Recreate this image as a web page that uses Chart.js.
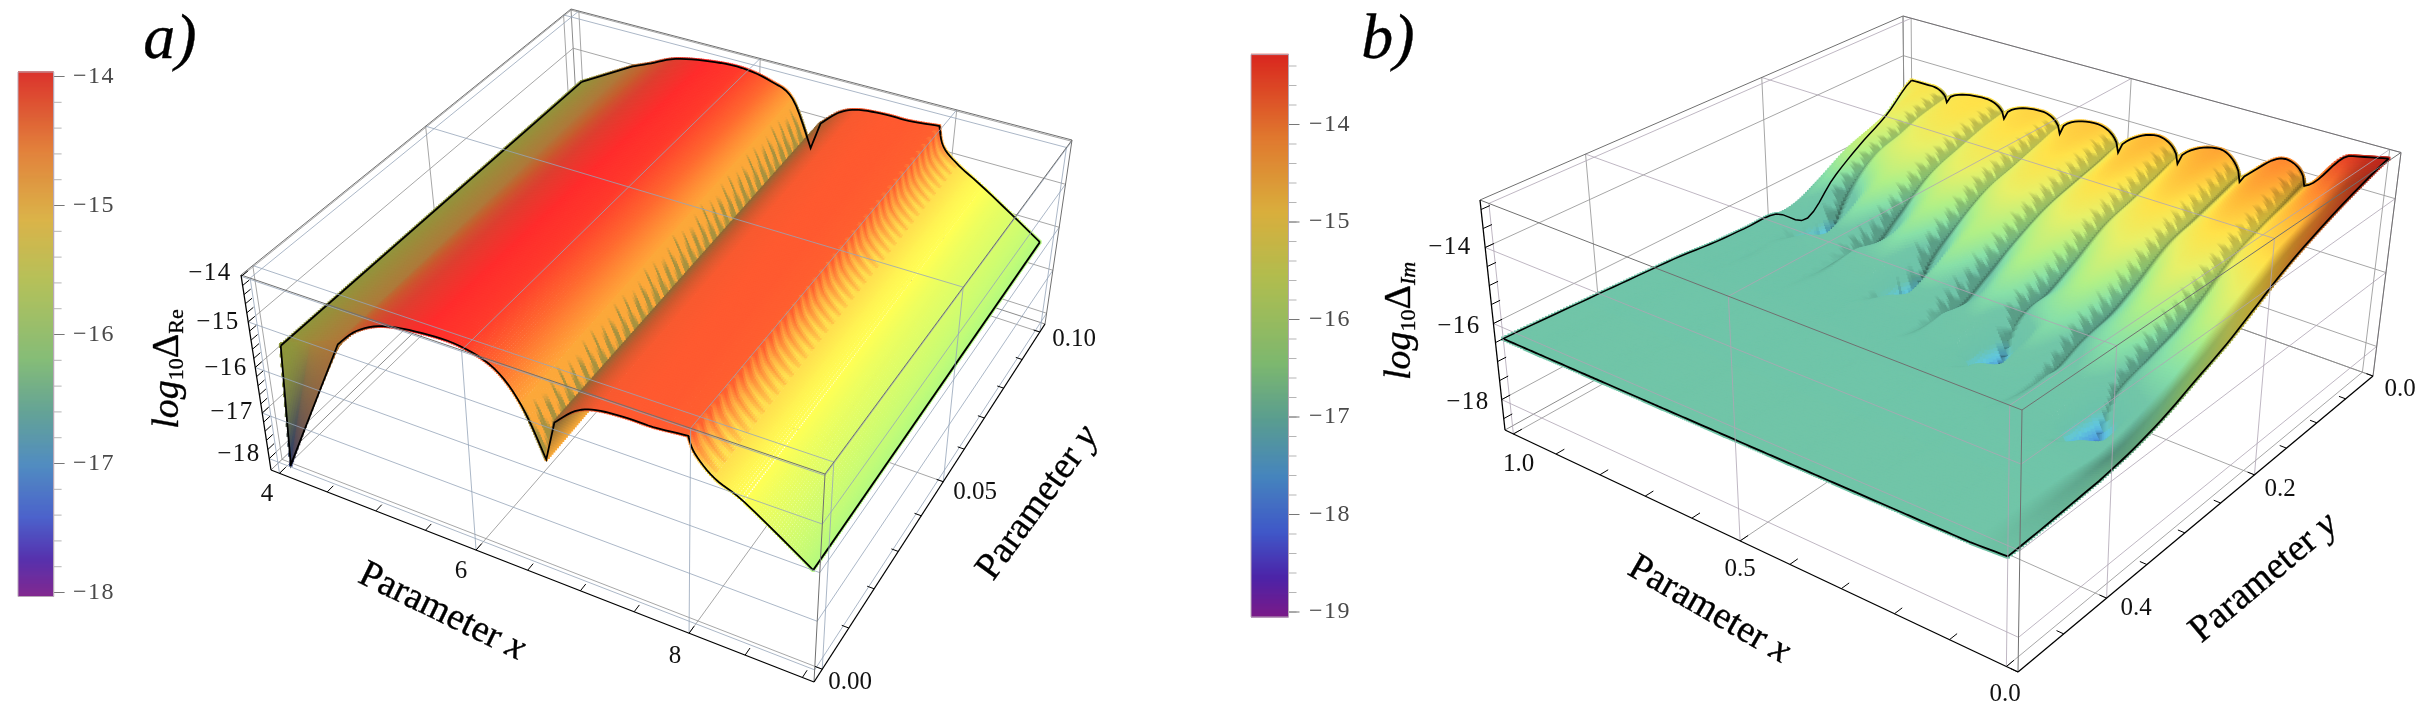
<!DOCTYPE html>
<html><head><meta charset="utf-8">
<style>html,body{margin:0;padding:0;background:#fff}canvas{display:block}</style>
<script src="https://cdn.jsdelivr.net/npm/chart.js@4/dist/chart.umd.js"></script>
</head><body><canvas id="c" width="2428" height="714"></canvas>
<script>
// ---------- values ----------
const aXTicks=[4,6,8], aYTicks=[0,0.05,0.1], aZTicks=[-18,-17,-16,-15,-14];
const bXTicks=[1,0.5,0], bYTicks=[0,0.2,0.4], bZTicks=[-18,-16,-14];
const aBarTicks=[-14,-15,-16,-17,-18], bBarTicks=[-14,-15,-16,-17,-18,-19];
// panel a: cross-section of the surface at y=0 and at y=0.1
const aProfileX=[4.08,4.00,4.68,4.89,5.16,5.53,5.88,6.19,6.42,6.63,6.72,6.91,7.10,7.37,7.60,7.90,7.96,8.13,8.39,8.98];
const aProfileZ=[-15.61,-18.30,-15.11,-14.65,-14.34,-14.20,-14.20,-14.44,-15.03,-16.02,-15.16,-14.76,-14.58,-14.52,-14.52,-14.45,-14.78,-15.15,-15.43,-16.31];
const aProfileZBack=[-15.61,-18.30,-14.83,-14.62,-14.34,-14.17,-14.12,-14.26,-14.55,-15.62,-14.96,-14.56,-14.38,-14.32,-14.32,-14.25,-14.71,-15.05,-15.40,-16.25];
const aProfileColor=['#8f973c','#1f2f6b','#b0783a','#c4602f','#dc4030','#ff2c2c','#ff3a2c','#ff6a30','#ffa63a','#f8a838','#8a6a35','#c85a2f','#f85a30','#ff5a30','#ff5a30','#ff6030','#ffa040','#ffe050','#ffff55','#b4fa80'];
// panel b: height table, knots across x (edge, crest, valley, crest, ...), rows along y
const bKnotX=[1,0.95,0.913,0.82,0.776,0.69,0.648,0.567,0.519,0.438,0.394,0.311,0.268,0.185,0.145,0.063,0];
const bRowY=[0,0.04,0.08,0.12,0.16,0.2,0.24,0.28,0.32,0.36,0.4,0.5];
const bZ=[
[-14.7,-14.69,-15.06,-14.58,-15.03,-14.46,-14.97,-14.35,-15.0,-14.18,-14.81,-14.04,-14.79,-13.79,-14.37,-13.2,-13.0],
[-15.4,-14.8,-15.3,-14.65,-15.25,-14.55,-15.2,-14.45,-15.2,-14.3,-15.05,-14.2,-15.0,-14.0,-14.7,-13.7,-13.2],
[-15.9,-15.1,-15.6,-14.85,-15.5,-14.75,-15.45,-14.65,-15.4,-14.5,-15.3,-14.45,-15.25,-14.3,-15.0,-14.2,-13.45],
[-16.5,-15.4,-15.9,-15.15,-15.8,-15.0,-15.7,-14.9,-15.65,-14.8,-15.55,-14.75,-15.5,-14.65,-15.3,-14.5,-13.75],
[-17.3,-15.9,-16.7,-15.55,-16.4,-15.4,-16.2,-15.3,-16.05,-15.2,-16.0,-15.1,-15.95,-15.0,-15.8,-14.9,-14.1],
[-16.7,-16.3,-17.9,-16.0,-16.9,-15.8,-16.8,-15.6,-16.5,-15.5,-16.4,-15.45,-16.35,-15.4,-16.2,-15.3,-14.55],
[-16.65,-16.55,-16.65,-16.45,-16.7,-16.2,-17.9,-16.0,-16.9,-15.9,-16.7,-15.85,-16.6,-15.8,-16.5,-15.75,-15.0],
[-16.6,-16.55,-16.6,-16.5,-16.6,-16.5,-16.6,-16.45,-16.8,-16.3,-18.0,-16.15,-16.9,-16.1,-16.8,-16.1,-15.35],
[-16.5,-16.5,-16.5,-16.5,-16.5,-16.5,-16.5,-16.5,-16.5,-16.55,-16.6,-16.5,-16.7,-16.4,-18.1,-16.35,-15.7],
[-16.45,-16.45,-16.45,-16.45,-16.45,-16.45,-16.45,-16.45,-16.45,-16.45,-16.45,-16.45,-16.45,-16.5,-16.6,-16.5,-15.95],
[-16.4,-16.4,-16.4,-16.4,-16.4,-16.4,-16.4,-16.4,-16.4,-16.4,-16.4,-16.4,-16.4,-16.4,-16.4,-16.4,-16.1],
[-16.3,-16.3,-16.3,-16.3,-16.3,-16.3,-16.3,-16.3,-16.3,-16.3,-16.3,-16.3,-16.3,-16.3,-16.3,-16.3,-16.25]];
const bZPalette=[-18.2,-17.6,-17.2,-16.9,-16.2,-15.9,-15.5,-15,-14.6,-14.2,-13.8,-13.3,-13];
const bZColors=['#2f55c8','#4a8fe0','#62c8dc','#6cc2aa','#72c6a8','#88e0a8','#b0f088','#e8f068','#ffe24a','#ffb838','#ff8a30','#e84a28','#d82a20'];
const barStops=[0,0.07,0.15,0.25,0.35,0.45,0.6,0.72,0.85,1];
const barColors=['#7a1a88','#4c24a8','#4058c8','#4685bd','#5a9d90','#7db86f','#b0bd4f','#d9ae3d','#e0792f','#d9261f'];

// ---------- helpers ----------
const hex=h=>[parseInt(h.slice(1,3),16),parseInt(h.slice(3,5),16),parseInt(h.slice(5,7),16)];
const toHex=c=>'#'+c.map(v=>Math.max(0,Math.min(255,Math.round(v))).toString(16).padStart(2,'0')).join('');
const lerp=(a,b,t)=>a+(b-a)*t, clamp=(v,a=0,b=1)=>Math.max(a,Math.min(b,v));
const mixC=(a,b,t)=>[lerp(a[0],b[0],t),lerp(a[1],b[1],t),lerp(a[2],b[2],t)];
const tri=t=>{const f=t-Math.floor(t);return Math.abs(2*f-1)};
function ramp(stops,cols,v){
  const c=cols.map(hex);
  if(v<=stops[0])return c[0];
  for(let i=1;i<stops.length;i++)if(v<=stops[i])return mixC(c[i-1],c[i],(v-stops[i-1])/(stops[i]-stops[i-1]));
  return c[c.length-1];
}
function makeBox(cfg){
  const warp=(t,a)=>a*t/(1+(a-1)*t);
  const k=cfg;
  return (x,y,z)=>{
    const u=warp((x-k.xr[0])/(k.xr[1]-k.xr[0]),k.ax),w=warp((y-k.yr[0])/(k.yr[1]-k.yr[0]),k.ay),v=(z-k.zr[0])/(k.zr[1]-k.zr[0]);
    const bi=(fl,fr,br,bl,i)=>lerp(lerp(fl[i],fr[i],u),lerp(bl[i],br[i],u),w);
    const bx=bi(k.flb,k.frb,k.brb,k.blb,0),by=bi(k.flb,k.frb,k.brb,k.blb,1);
    const tx=bi(k.flt,k.frt,k.brt,k.blt,0),ty=bi(k.flt,k.frt,k.brt,k.blt,1);
    return {x:lerp(bx,tx,v),y:lerp(by,ty,v)};
  };
}
const layers=[];
const line=(pts,color,width)=>layers.push({type:'scatter',data:pts,showLine:true,borderColor:color,borderWidth:width,pointRadius:0,fill:false,clip:false,tension:0});
const dots=(pts,cols,r)=>layers.push({type:'scatter',data:pts,showLine:false,pointStyle:'rect',pointRadius:r,pointBackgroundColor:cols,pointBorderWidth:0,clip:false});

function boxBack(P,k,X,Y,Z){
  const c='rgba(150,150,150,.85)';
  const [x0,x1]=k.xr,[y0,y1]=k.yr,[z0,z1]=k.zr;
  X.forEach(x=>{line([P(x,y0,z0),P(x,y1,z0)],c,1);line([P(x,y1,z0),P(x,y1,z1)],c,1);});
  Y.forEach(y=>{line([P(x0,y,z0),P(x1,y,z0)],c,1);line([P(x0,y,z0),P(x0,y,z1)],c,1);});
  Z.forEach(z=>{line([P(x0,y0,z),P(x0,y1,z)],c,1);line([P(x0,y1,z),P(x1,y1,z)],c,1);});
  const e='#8c8c8c';
  line([P(x0,y1,z0),P(x0,y1,z1)],e,1);line([P(x0,y1,z0),P(x1,y1,z0)],e,1);line([P(x0,y0,z0),P(x0,y1,z0)],e,1);
}
function boxFront(P,k,X,Y,Z,c,mx,my,mz){
  const [x0,x1]=k.xr,[y0,y1]=k.yr,[z0,z1]=k.zr;
  X.forEach(x=>{line([P(x,y0,z1),P(x,y1,z1)],c,1);line([P(x,y0,z0),P(x,y0,z1)],c,1);});
  Y.forEach(y=>{line([P(x0,y,z1),P(x1,y,z1)],c,1);line([P(x1,y,z0),P(x1,y,z1)],c,1);});
  Z.forEach(z=>{line([P(x0,y0,z),P(x1,y0,z)],c,1);line([P(x1,y0,z),P(x1,y1,z)],c,1);});
  const e='#707070';
  [[P(x0,y0,z1),P(x1,y0,z1)],[P(x1,y0,z1),P(x1,y1,z1)],[P(x1,y1,z1),P(x0,y1,z1)],[P(x0,y1,z1),P(x0,y0,z1)],
   [P(x1,y0,z0),P(x1,y0,z1)],[P(x1,y1,z0),P(x1,y1,z1)]].forEach(s=>line(s,e,1));
  const b='#000';
  line([P(x0,y0,z0),P(x1,y0,z0)],b,1.3);line([P(x1,y0,z0),P(x1,y1,z0)],b,1.3);line([P(x0,y0,z0),P(x0,y0,z1)],b,1.3);
  const dy=(y1-y0)*.016,dx=(x1-x0)*.012;
  mx.forEach(x=>line([P(x,y0,z0),P(x,y0+dy,z0)],b,1));
  my.forEach(y=>line([P(x1,y,z0),P(x1-dx,y,z0)],b,1));
  mz.forEach(z=>line([P(x0,y0,z),P(x0,y0+dy,z)],b,1));
}
function steps(a,b,s){const o=[];const n=Math.round(Math.abs(b-a)/s);for(let i=0;i<=n;i++)o.push(a+(b-a)*i/n);return o;}

// ---------- colour bars ----------
function colorBar(x0,x1,yTop,yBot,topV,perUnit,botV,ticks,minor){
  const pts=[],cols=[];
  for(let y=yTop;y<=yBot;y+=1){pts.push({x:(x0+x1)/2,y});cols.push(toHex(ramp(barStops,barColors,1-(y-yTop)/(yBot-yTop))));}
  layers.push({type:'scatter',data:pts,showLine:false,pointStyle:'line',pointRadius:(x1-x0)/2,pointBorderColor:cols,pointBorderWidth:1.6,clip:false});
  const vy=v=>yTop+(topV-v)*perUnit;
  minor.forEach(v=>{const y=vy(v);if(y>=yTop&&y<=yBot)line([{x:x1,y},{x:x1+8,y}],'#b5b5b5',1);});
  ticks.forEach(v=>line([{x:x1,y:vy(v)},{x:x1+11,y:vy(v)}],'#777',1));
  line([{x:x0,y:yTop},{x:x1,y:yTop},{x:x1,y:yBot},{x:x0,y:yBot},{x:x0,y:yTop}],'#b8a8b8',1);
  return vy;
}
const vyA=colorBar(18,53.6,72,596.5,-13.965,129,-18.03,aBarTicks,steps(-14,-18,.2));
const vyB=colorBar(1251,1288.5,54.6,617,-13.283,97.5,-19.05,bBarTicks,steps(-13.4,-19,.2));

// ---------- panel a ----------
const kA={flb:[271,470],frb:[814,682],brb:[1045,324],blb:[580,172],flt:[241,275],frt:[825,474],brt:[1072,140],blt:[571,9],xr:[3.91,9.1],yr:[-0.003,0.103],zr:[-18.25,-13.97],ax:.9,ay:1.27};
const PA=makeBox(kA);
boxBack(PA,kA,aXTicks,aYTicks,aZTicks);
(function(){
  const idx=[0];for(let i=2;i<aProfileX.length;i++)idx.push(i);
  const cols=aProfileColor.map(hex);
  const midC=mixC(cols[0],cols[2],.5);
  const curve=(arr,a,b,t)=>{
    let lo=-1,hi=-1;
    if(a>=2&&b<=9){lo=2;hi=9;}else if(a>=10&&b<=15){lo=10;hi=15;}else if(a>=15){lo=15;hi=19;}
    if(lo<0||a===b)return lerp(arr[a],arr[b],t);
    const p0=arr[Math.max(a-1,lo)],p1=arr[a],p2=arr[b],p3=arr[Math.min(b+1,hi)];
    return .5*((2*p1)+(-p0+p2)*t+(2*p0-5*p1+4*p2-p3)*t*t+(-p0+3*p1-3*p2+p3)*t*t*t);
  };
  const at=(a,b,t,y)=>{const f=y/0.1;return PA(curve(aProfileX,a,b,t),y,lerp(curve(aProfileZ,a,b,t),curve(aProfileZBack,a,b,t),f));};
  const pts=[],cc=[];
  const nRows=180;
  const sam=[];
  for(let j=0;j<idx.length-1;j++){
    const a=idx[j],b=idx[j+1];
    const pa=PA(aProfileX[a],0,aProfileZ[a]),pb=PA(aProfileX[b],0,aProfileZ[b]);
    const n=Math.max(2,Math.ceil(Math.hypot(pa.x-pb.x,pa.y-pb.y)/2.7));
    for(let q=0;q<n;q++)sam.push([a,b,q/n]);
  }
  sam.push([idx[idx.length-1],idx[idx.length-1],0]);
  for(let r=0;r<=nRows;r++){
    const y=0.1*(1-r/nRows);
    for(const [a,b,t] of sam){
      let c;
      const s=a+(b-a)*t;
      if(a===8){
        const d=9-s,h=tri(y*380);
        c=mixC(hex('#a8923f'),hex('#fca83a'),clamp((d-h*.8)/.2));
      }else if(a>=15&&a<=16){
        const s2=clamp(s+.8*(tri(y*380)-.5),15,17);
        c=s2<16?mixC(cols[15],cols[16],s2-15):mixC(cols[16],cols[17],s2-16);
      }else c=mixC(cols[a],cols[b],t);
      pts.push(at(a,b,t,y));cc.push(toHex(c));
    }
  }
  for(let f=40;f>=0;f--){
    const g=f/40,bx=lerp(aProfileX[1],(aProfileX[0]+aProfileX[2])/2,g),bz=lerp(aProfileZ[1],(aProfileZ[0]+aProfileZ[2])/2,g);
    const bc=mixC(cols[1],midC,g);
    for(let q=0;q<=40;q++){
      const t=q/40;let x,z,c;
      if(t<.3){const e=t/.3;x=lerp(aProfileX[0],bx,e);z=lerp(aProfileZ[0],bz,e);c=mixC(cols[0],bc,e*e);}
      else{const e=(t-.3)/.7;x=lerp(bx,aProfileX[2],e);z=lerp(bz,aProfileZ[2],e);c=mixC(bc,cols[2],Math.sqrt(e));}
      pts.push(PA(x,0.0006*g,z));cc.push(toHex(c));
    }
  }
  dots(pts,cc,2.5);
  const prof=y=>{
    const o=[];
    if(y===0)o.push(PA(aProfileX[0],0,aProfileZ[0]),PA(aProfileX[1],0,aProfileZ[1]));
    else o.push(at(0,0,0,y));
    for(let j=1;j<idx.length-1;j++){for(let q=0;q<6;q++)o.push(at(idx[j],idx[j+1],q/6,y));}
    const L=aProfileX.length-1;o.push(at(L,L,0,y));return o;
  };
  line(prof(0.1),'#000',1.8);
  line(prof(0),'#000',1.8);
  line([at(0,0,0,0),at(0,0,0,.1)],'#000',1.8);
  const L=aProfileX.length-1;
  line([at(L,L,0,0),at(L,L,0,.1)],'#000',1.8);
})();
boxFront(PA,kA,aXTicks,aYTicks,aZTicks,'rgba(150,165,185,.8)',steps(4,9,.5),steps(0,.1,.01),steps(-18,-14,.2));

// ---------- panel b ----------
const kB={flb:[1505,430],frb:[2018,672],brb:[2373,376],blb:[1905,208],flt:[1480,200],frt:[2022,410],brt:[2401,152.5],blt:[1903,16],xr:[1.02,-0.02],yr:[0.5,0],zr:[-18.8,-12.75],ax:.846,ay:1.33};
const PB=makeBox(kB);
boxBack(PB,kB,bXTicks,bYTicks,bZTicks);
(function(){
  const nK=bKnotX.length;
  const rowAt=y=>{
    let i=0;while(i<bRowY.length-2&&y>bRowY[i+1])i++;
    const t=(y-bRowY[i])/(bRowY[i+1]-bRowY[i]);
    const o=[];
    for(let k=0;k<nK;k++){
      const p0=bZ[Math.max(i-1,0)][k],p1=bZ[i][k],p2=bZ[i+1][k],p3=bZ[Math.min(i+2,bRowY.length-1)][k];
      o.push(.5*((2*p1)+(-p0+p2)*t+(2*p0-5*p1+4*p2-p3)*t*t+(-p0+3*p1-3*p2+p3)*t*t*t));
    }
    return o;
  };
  const zSeg=(row,k,t)=>{
    if(k===0){const e=t*t*(3-2*t);return lerp(row[0],row[1],e);}
    if(k===nK-2)return lerp(row[k],row[k+1],t);
    const kIsCrest=k%2===1;
    const zr=kIsCrest?row[k]:row[k+1],zv=kIsCrest?row[k+1]:row[k],d=kIsCrest?1-t:t;
    const arc=Math.sqrt(1-(1-d)*(1-d));
    return zv+(zr-zv)*lerp(arc,d*d*(3-2*d),clamp((zr-zv-.7)/.5));
  };
  const pts=[],cc=[],rr=[];
  const segN=k=>(k===0?8:k===nK-2?30:22);
  const nRows=170;
  let prevRow=null;
  for(let r=0;r<=nRows;r++){
    const y=.5*r/nRows,row=rowAt(y),cur=[];
    let last=null;
    for(let k=0;k<nK-1;k++){
      const n=segN(k);
      for(let q=0;q<n+(k===nK-2?1:0);q++){
        let t=q/n;
        if(k>0&&k<nK-2){t=k%2===1?1-Math.pow(1-t,1.35):Math.pow(t,1.35);}
        const x=lerp(bKnotX[k],bKnotX[k+1],t),z=zSeg(row,k,t);
        let shade=1;
        if(k>0&&k<nK-2){
          const crest=k%2===1,zr=crest?row[k]:row[k+1],zv=crest?row[k+1]:row[k],d=crest?1-t:t;
          const wgt=clamp((zr-zv)/.35)*clamp((zr+16.6)/.5),fade=clamp((.3-y)/.06);
          if(crest){
            const h=tri(y*75)*fade;
            const lim=.08+.4*h;
            shade=lerp(1,lerp(.8,1,clamp((d-lim*.7)/(lim*.5+.04))),wgt)*lerp(1,lerp(.62,1,clamp(d/.07)),wgt);
          }else{
            shade=lerp(1,lerp(.62,1,clamp(d/.2)),wgt);
          }
        }else if(k===nK-2){
          const wgt=clamp((row[k+1]-row[k])/.5);
          shade=lerp(1,lerp(1,.74,clamp(t/.55)),wgt);
        }
        const c=ramp(bZPalette,bZColors,z).map(v=>v*shade);
        const p=PB(x,y,z);
        const i=cur.length;
        let gap=0;
        if(last)gap=Math.max(gap,Math.hypot(p.x-last.x,p.y-last.y));
        if(prevRow)gap=Math.max(gap,Math.hypot(p.x-prevRow[i].x,p.y-prevRow[i].y));
        pts.push(p);cc.push(toHex(c));rr.push(clamp(gap*.85,2.7,8));
        cur.push(p);last=p;
      }
    }
    prevRow=cur;
  }
  dots(pts,cc,rr);
  const profile=y=>{const row=rowAt(y),o=[];for(let k=0;k<nK-1;k++){const n=k===0||k===nK-2?6:10;for(let q=0;q<n;q++){const t=q/n;o.push(PB(lerp(bKnotX[k],bKnotX[k+1],t),y,zSeg(row,k,t)));}}o.push(PB(0,y,row[nK-1]));return o;};
  line(profile(0),'#000',1.8);
  line(profile(.5),'#000',1.8);
  const edge=k=>{const o=[];for(let i=0;i<=60;i++){const y=.5*i/60;o.push(PB(bKnotX[k],y,rowAt(y)[k]));}return o;};
  line(edge(0),'#000',1.5);
  line(edge(nK-1),'#000',1.8);
})();
boxFront(PB,kB,bXTicks,bYTicks,bZTicks,'rgba(175,165,180,.8)',steps(1,0,.1),steps(0,.5,.05),steps(-18.5,-13,.5));

// ---------- real text ----------
const SERIF='"Liberation Serif","Times New Roman",serif';
const plainTexts=[
 ['4',267,494],['6',461,571.5],['8',675,656],['0.00',850,682],['0.05',975,492],['0.10',1074,339],
 ['1.0',1518.5,464.5],['0.5',1740,569],['0.0',2005,694],['0.0',2400,389],['0.2',2280,489.5],['0.4',2136,608]];
const zTexts=[['−14',210,273],['−15',218,322],['−16',226,368],['−17',232,412],['−18',239,454],['−14',1450,247],['−16',1459,326],['−18',1468,402]];
const axisTitles=[[442,612,26],[1038,503,-54],[1709,610,30],[2264,578,-40]];
const axisNames=['x','y','x','y'];
const panelTags=[['a)',170,41],['b)',1388,41]];
const sideLabels=[[168,369,'Re'],[1400,321,'Im']];
const textPlugin={id:'texts',afterDatasetsDraw(ch){
  const c=ch.ctx,sx=ch.scales.x,sy=ch.scales.y;
  const X=v=>sx.getPixelForValue(v),Y=v=>sy.getPixelForValue(v);
  c.save();c.textBaseline='middle';c.textAlign='center';
  c.fillStyle='#111';c.font='25px '+SERIF;
  plainTexts.forEach(t=>c.fillText(t[0],X(t[1]),Y(t[2])));
  c.letterSpacing='1.5px';
  zTexts.forEach(t=>c.fillText(t[0],X(t[1]),Y(t[2])));
  c.fillStyle='#4a4a4a';c.font='24px '+SERIF;c.textAlign='left';
  aBarTicks.forEach(v=>c.fillText('−'+Math.abs(v),X(73),Y(vyA(v))));
  bBarTicks.forEach(v=>c.fillText('−'+Math.abs(v),X(1309),Y(vyB(v))));
  c.letterSpacing='0px';
  c.fillStyle='#000';c.strokeStyle='#000';c.lineWidth=.35;
  const both=(s,x,y)=>{c.fillText(s,x,y);c.strokeText(s,x,y);};
  axisTitles.forEach((t,i)=>{
    c.save();c.translate(X(t[0]),Y(t[1]));c.rotate(t[2]*Math.PI/180);
    c.font='38px '+SERIF;const a='Parameter ';const wa=c.measureText(a).width;
    c.font='italic 38px '+SERIF;const wb=c.measureText(axisNames[i]).width;
    let x0=-(wa+wb)/2;c.textAlign='left';
    c.font='38px '+SERIF;both(a,x0,0);
    c.font='italic 38px '+SERIF;both(axisNames[i],x0+wa,0);
    c.restore();
  });
  c.textAlign='center';c.font='italic 64px '+SERIF;
  panelTags.forEach(t=>both(t[0],X(t[1]),Y(t[2])));
  sideLabels.forEach(t=>{
    c.save();c.translate(X(t[0]),Y(t[1]));c.rotate(-Math.PI/2);c.textAlign='left';
    const runs=[['log','italic 38px',0],['10','22px',9],['Δ','38px',0],[t[2],(t[2]==='Im'?'italic ':'')+'22px',9]];
    let w=0;runs.forEach(r=>{c.font=r[1]+' '+SERIF;w+=c.measureText(r[0]).width;});
    let x=-w/2;runs.forEach(r=>{c.font=r[1]+' '+SERIF;both(r[0],x,r[2]);x+=c.measureText(r[0]).width;});
    c.restore();
  });
  c.restore();
}};
layers.forEach((d,i)=>{d.order=layers.length-i;});
new Chart(document.getElementById('c'),{
  type:'scatter',
  data:{datasets:layers},
  plugins:[textPlugin],
  options:{responsive:false,animation:false,parsing:false,normalized:true,events:[],
    layout:{padding:0,autoPadding:false},
    plugins:{legend:{display:false},tooltip:{enabled:false},title:{display:false}},
    scales:{x:{type:'linear',min:0,max:2428,display:false},y:{type:'linear',min:0,max:714,reverse:true,display:false}}}
});
</script></body></html>
